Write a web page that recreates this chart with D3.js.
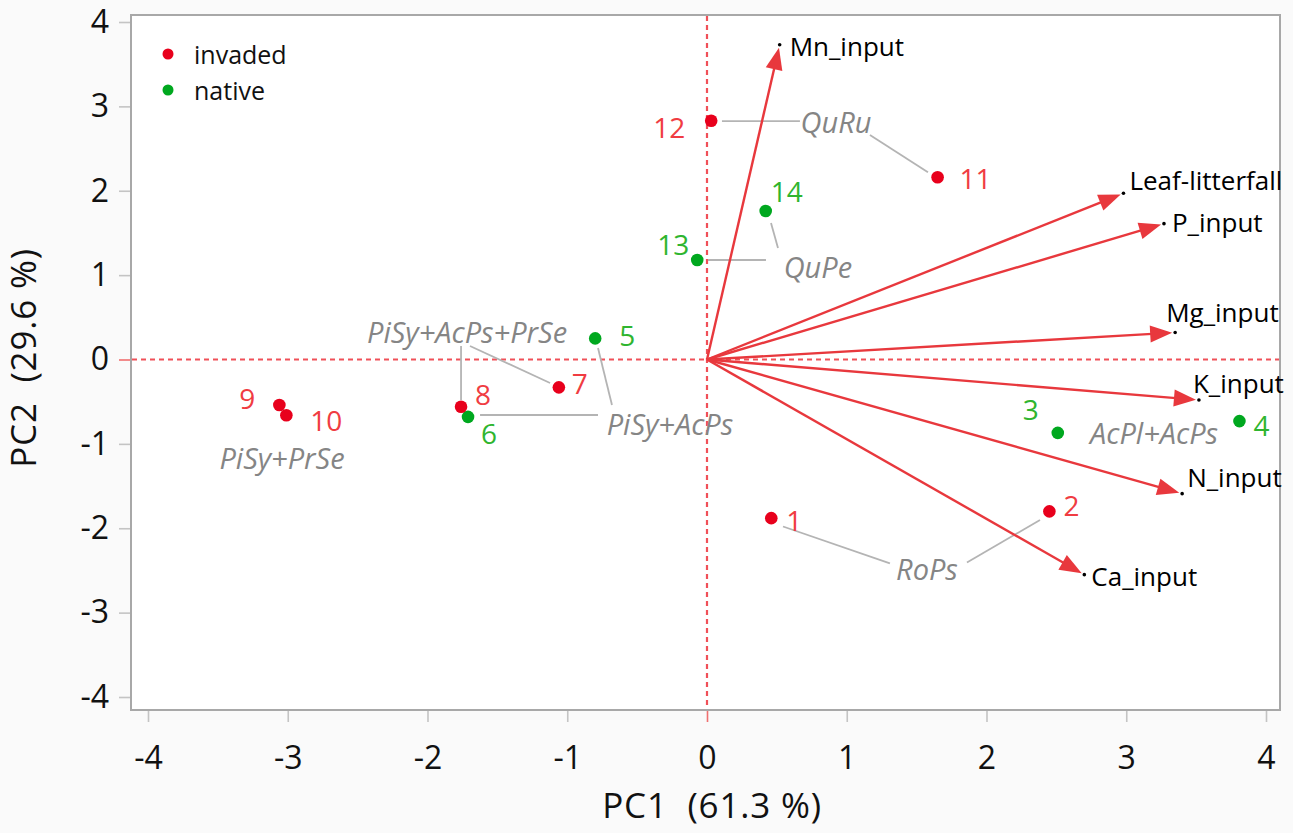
<!DOCTYPE html>
<html><head><meta charset="utf-8">
<script src="https://cdn.jsdelivr.net/npm/d3@7"></script>
<style>
html,body{margin:0;padding:0;background:#fafafa;}
svg{display:block;font-family:"Open Sans","Noto Sans",sans-serif;}
text{white-space:pre;}
</style></head>
<body>
<svg id="chart" width="1293" height="833"></svg>
<script>
// ---- data ----
const siteIds = ["1","2","3","4","5","6","7","8","9","10","11","12","13","14"];
const siteGroup = ["invaded","invaded","native","native","native","native","invaded","invaded","invaded","invaded","invaded","invaded","native","native"];
const pc1Scores = [0.46, 2.45, 2.51, 3.81, -0.80, -1.71, -1.06, -1.76, -3.06, -3.01, 1.65, 0.03, -0.07, 0.42];
const pc2Scores = [-1.88, -1.80, -0.87, -0.73, 0.25, -0.68, -0.33, -0.56, -0.54, -0.66, 2.16, 2.83, 1.18, 1.76];

const varNames = ["Mn_input","Leaf-litterfall","P_input","Mg_input","K_input","N_input","Ca_input"];
const loadPC1 = [0.52, 2.98, 3.27, 3.35, 3.52, 3.40, 2.70];
const loadPC2 = [3.73, 1.97, 1.61, 0.32, -0.48, -1.59, -2.55];

const groups = ["invaded","native"];
const xTicks = [-4,-3,-2,-1,0,1,2,3,4];
const yTicks = [-4,-3,-2,-1,0,1,2,3,4];

// stand annotations (label position and connector segments, in PC units)
const standNames = ["QuRu","QuPe","PiSy+AcPs+PrSe","PiSy+AcPs","PiSy+PrSe","AcPl+AcPs","RoPs"];
const standPos = [[0.923,2.826],[0.794,1.108],[-1.717,0.326],[-0.265,-0.764],[-3.041,-1.167],[3.199,-0.871],[1.574,-2.477]];
const standLinks = [
  [[0.107,2.826,0.665,2.826],[1.166,2.66,1.581,2.22]],
  [[0.007,1.179,0.422,1.179],[0.458,1.617,0.508,1.321]],
  [[-1.760,0.160,-1.760,-0.480],[-1.696,0.160,-1.123,-0.278]],
  [[-1.624,-0.658,-0.780,-0.658],[-0.780,0.136,-0.680,-0.539]],
  [],[],
  [[0.544,-1.979,1.309,-2.417],[1.860,-2.405,2.383,-1.902]]
];

// ---- layout / style ----
const colPoint = {invaded:"#e8001c", native:"#00a81f"};
const colLabel = {invaded:"#f03c42", native:"#2fb52f"};
// number label offsets (px) relative to point
const idOffsets = [[15,2],[14,-6],[-35,-24],[14,4],[24,-3],[13,16],[13,-4],[14,-13],[-40,-7],[24,5],[22,1],[-58,6],[-40,-16],[5,-20]];
const varOffsets = [[10,1],[6,-13],[8,-2],[-9,-21],[-6,-17],[5,-17],[7,1]];

const svg = d3.select("#chart");
const L = 131, R = 1280, T = 15, B = 710;
const x = d3.scaleLinear().domain([-4,4]).range([148,1266]);
const y = d3.scaleLinear().domain([-4,4]).range([697,22]);

svg.append("rect").attr("x",L).attr("y",T).attr("width",R-L).attr("height",B-T)
  .attr("fill","#ffffff").attr("stroke","#a8a8a8").attr("stroke-width",2);

// axes
const xAxis = svg.append("g").attr("transform",`translate(0,${B+1})`)
  .call(d3.axisBottom(x).tickValues(xTicks).tickSize(11).tickPadding(24).tickFormat(d3.format("d")));
const yAxis = svg.append("g").attr("transform",`translate(${L-1},0)`)
  .call(d3.axisLeft(y).tickValues(yTicks).tickSize(11).tickPadding(10).tickFormat(d3.format("d")));
[xAxis,yAxis].forEach(a=>{
  a.select(".domain").remove();
  a.selectAll(".tick line").attr("stroke",d=>d===0?"#f07070":"#c4c4c4").attr("stroke-width",1.6);
  a.selectAll(".tick text").attr("fill","#111").style("font-size","32px").style("font-family","'Open Sans',sans-serif");
});
xAxis.selectAll(".tick text").text(d=>d<0?"-"+Math.abs(d):d);
yAxis.selectAll(".tick text").text(d=>d<0?"-"+Math.abs(d):d);

svg.append("text").attr("x",712).attr("y",818).attr("text-anchor","middle")
  .attr("fill","#111").style("font-size","35px").style("letter-spacing","0.8px").text("PC1  (61.3 %)");
svg.append("text").attr("transform","translate(36,358) rotate(-90)").attr("text-anchor","middle")
  .attr("fill","#111").style("font-size","35px").style("letter-spacing","0.8px").text("PC2  (29.6 %)");

// reference dashed lines
const plot = svg.append("g");
plot.append("line").attr("x1",L+1).attr("x2",R-1).attr("y1",y(0)).attr("y2",y(0))
  .attr("stroke","#f05058").attr("stroke-width",2.2).attr("stroke-dasharray","5,4");
plot.append("line").attr("x1",x(0)).attr("x2",x(0)).attr("y1",T+1).attr("y2",B-1)
  .attr("stroke","#f05058").attr("stroke-width",2.2).attr("stroke-dasharray","5,4");

// stand annotations
standNames.forEach((n,i)=>{
  standLinks[i].forEach(s=>{
    plot.append("line").attr("x1",x(s[0])).attr("y1",y(s[1])).attr("x2",x(s[2])).attr("y2",y(s[3]))
      .attr("stroke","#b4b4b4").attr("stroke-width",1.8);
  });
  plot.append("text").attr("x",x(standPos[i][0])).attr("y",y(standPos[i][1]))
    .attr("text-anchor","middle").attr("dominant-baseline","central")
    .attr("fill","#858585").style("font-size","29px").style("font-style","italic").text(n);
});

// loading arrows
const ox = x(0), oy = y(0);
varNames.forEach((v,i)=>{
  const tx = x(loadPC1[i]), ty = y(loadPC2[i]);
  const dx = tx-ox, dy = ty-oy, len = Math.hypot(dx,dy);
  const ux = dx/len, uy = dy/len;
  const hl = 22, hw = 8.5, gap = 3;
  const hx = tx-ux*gap, hy = ty-uy*gap;
  const bx = hx-ux*hl, by = hy-uy*hl;
  plot.append("line").attr("x1",ox).attr("y1",oy).attr("x2",bx+ux*2).attr("y2",by+uy*2)
    .attr("stroke","#e8383d").attr("stroke-width",2.4);
  plot.append("path")
    .attr("d",`M${hx},${hy}L${bx-uy*hw},${by+ux*hw}L${bx+uy*hw},${by-ux*hw}Z`)
    .attr("fill","#e8383d");
  plot.append("circle").attr("cx",tx).attr("cy",ty).attr("r",1.8).attr("fill","#000");
  plot.append("text").attr("x",tx+varOffsets[i][0]).attr("y",ty+varOffsets[i][1])
    .attr("dominant-baseline","central").attr("fill","#000").style("font-size","26px").text(v);
});

// points
siteIds.forEach((s,i)=>{
  const px = x(pc1Scores[i]), py = y(pc2Scores[i]);
  plot.append("circle").attr("cx",px).attr("cy",py).attr("r",6.3).attr("fill",colPoint[siteGroup[i]]);
  plot.append("text").attr("x",px+idOffsets[i][0]).attr("y",py+idOffsets[i][1])
    .attr("dominant-baseline","central").attr("fill",colLabel[siteGroup[i]]).style("font-size","28px").text(s);
});

// legend
groups.forEach((g,i)=>{
  const ly = 54 + i*36;
  svg.append("circle").attr("cx",168).attr("cy",ly).attr("r",5.5).attr("fill",colPoint[g]);
  svg.append("text").attr("x",194).attr("y",ly).attr("dominant-baseline","central")
    .attr("fill","#111").style("font-size","25px").text(g);
});
</script>
</body></html>
